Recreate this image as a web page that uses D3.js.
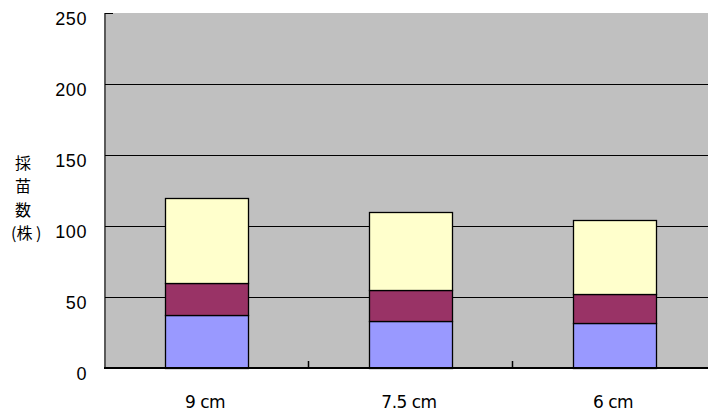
<!DOCTYPE html>
<html>
<head>
<meta charset="utf-8">
<script src="https://cdn.jsdelivr.net/npm/d3@7"></script>
<style>
  body { margin: 0; background: #fff; }
  svg { display: block; }
</style>
</head>
<body>
<script>
var categories = ["9 cm", "7.5 cm", "6 cm"];
var seriesBlue = [37, 33, 32];
var seriesPurple = [23, 22, 20];
var seriesYellow = [60, 55, 52];
var yTicks = [0, 50, 100, 150, 200, 250];
var yTitle = ["採", "苗", "数", "(株 )"];

var seriesKeys = ["blue", "purple", "yellow"];
var color = { blue: "#9999FF", purple: "#993366", yellow: "#FFFFCC" };

var tableData = categories.map(function(c, i) {
    return { cat: c, blue: seriesBlue[i], purple: seriesPurple[i], yellow: seriesYellow[i] };
});

var width = 708, height = 417;
var margin = { top: 13, right: -9, bottom: 49, left: 105 };

var svg = d3.select("body").append("svg")
    .attr("width", width)
    .attr("height", height);

var x = d3.scaleBand()
    .domain(categories)
    .range([margin.left, width - margin.right]);

var y = d3.scaleLinear()
    .domain([0, 250])
    .range([height - margin.bottom, margin.top]);

// plot area
svg.append("rect")
    .attr("x", margin.left)
    .attr("y", margin.top)
    .attr("width", width - margin.left - margin.right)
    .attr("height", y(0) - margin.top)
    .attr("fill", "#C0C0C0");

// gridlines
svg.selectAll(".grid")
    .data(yTicks.filter(function(d) { return d > 0 && d < 250; }))
    .enter().append("line")
    .attr("class", "grid")
    .attr("x1", margin.left)
    .attr("x2", width)
    .attr("y1", function(d) { return Math.round(y(d)) + 0.5; })
    .attr("y2", function(d) { return Math.round(y(d)) + 0.5; })
    .attr("stroke", "#000")
    .attr("stroke-width", 1);

// stacked bars
var stack = d3.stack().keys(seriesKeys);
var layers = stack(tableData);
var barW = x.bandwidth() * 0.405;

var layer = svg.selectAll(".layer")
    .data(layers)
    .enter().append("g")
    .attr("class", "layer")
    .attr("fill", function(d) { return color[d.key]; });

layer.selectAll("rect")
    .data(function(d) { return d; })
    .enter().append("rect")
    .attr("x", function(d) { return Math.round(x(d.data.cat) + (x.bandwidth() - barW) / 2) - 0.5; })
    .attr("y", function(d) { return Math.round(y(d[1])) + 0.5; })
    .attr("width", Math.round(barW))
    .attr("height", function(d) { return Math.round(y(d[0])) - Math.round(y(d[1])); })
    .attr("stroke", "#000")
    .attr("stroke-width", 1.3);

// y axis line
svg.append("line")
    .attr("x1", margin.left)
    .attr("x2", margin.left)
    .attr("y1", margin.top)
    .attr("y2", y(0))
    .attr("stroke", "#5a5a5a")
    .attr("stroke-width", 2);

// y ticks (inside)
svg.selectAll(".ytick")
    .data(yTicks)
    .enter().append("line")
    .attr("class", "ytick")
    .attr("x1", margin.left)
    .attr("x2", margin.left + 8)
    .attr("y1", function(d) { return Math.round(y(d)) + 0.5; })
    .attr("y2", function(d) { return Math.round(y(d)) + 0.5; })
    .attr("stroke", "#000");

// x axis line
svg.append("line")
    .attr("x1", margin.left - 1)
    .attr("x2", width)
    .attr("y1", y(0))
    .attr("y2", y(0))
    .attr("stroke", "#000")
    .attr("stroke-width", 2);

// x ticks at band boundaries, inside
svg.selectAll(".xtick")
    .data(categories.slice(1))
    .enter().append("line")
    .attr("class", "xtick")
    .attr("x1", function(d) { return Math.round(x(d)) - 0.5; })
    .attr("x2", function(d) { return Math.round(x(d)) - 0.5; })
    .attr("y1", y(0) - 7)
    .attr("y2", y(0))
    .attr("stroke", "#000")
    .attr("stroke-width", 1.5);

// y tick labels
svg.selectAll(".ylabel")
    .data(yTicks)
    .enter().append("text")
    .attr("class", "ylabel")
    .attr("x", 87)
    .attr("y", function(d) { return y(d) + 12; })
    .attr("text-anchor", "end")
    .style("font-family", "'Liberation Sans', Arial, sans-serif")
    .style("font-size", "18px")
    .style("letter-spacing", "0.6px")
    .attr("fill", "#000")
    .text(function(d) { return d; });

// x labels
svg.selectAll(".xlabel")
    .data(categories)
    .enter().append("text")
    .attr("class", "xlabel")
    .attr("x", function(d) { return x(d) + x.bandwidth() / 2 - 2; })
    .attr("y", 408)
    .attr("text-anchor", "middle")
    .style("font-family", "'DejaVu Sans', sans-serif")
    .style("font-size", "17px")
    .style("letter-spacing", "-0.5px")
    .attr("fill", "#000")
    .text(function(d) { return d; });

// y title, stacked vertically
svg.selectAll(".ytitle")
    .data(yTitle)
    .enter().append("text")
    .attr("class", "ytitle")
    .attr("x", function(d, i) { return i < 3 ? 23 : 11; })
    .attr("y", function(d, i) { return 169 + i * 23.4; })
    .attr("text-anchor", function(d, i) { return i < 3 ? "middle" : "start"; })
    .style("font-family", "'Noto Sans CJK JP', sans-serif")
    .style("font-size", "16px")
    .attr("fill", "#000")
    .text(function(d) { return d; });
</script>
</body>
</html>
